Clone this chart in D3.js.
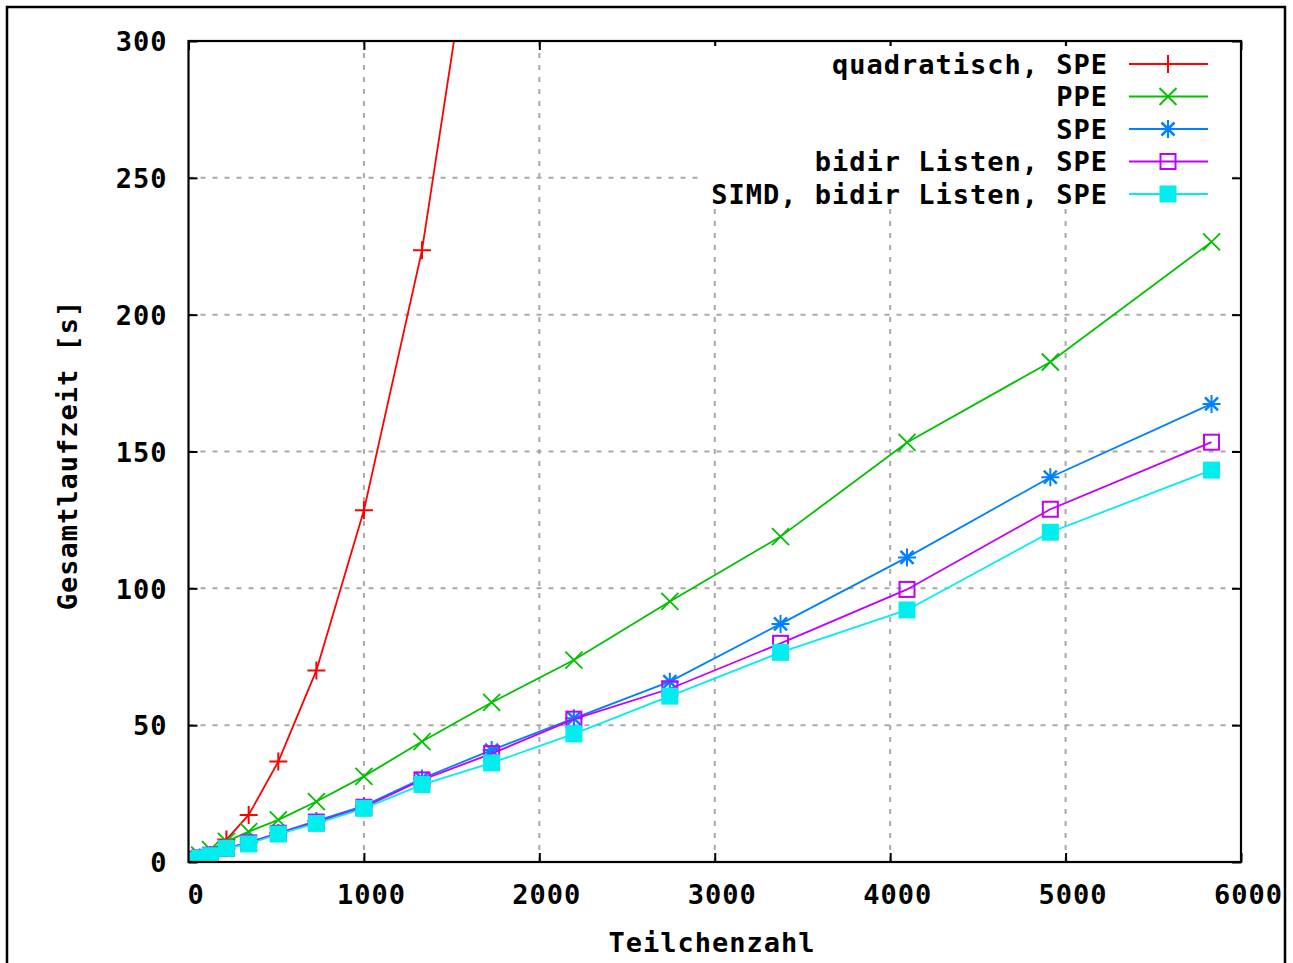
<!DOCTYPE html>
<html><head><meta charset="utf-8">
<script src="https://cdn.jsdelivr.net/npm/d3@7"></script>
<style>
html,body{margin:0;padding:0;background:#fff;}
svg text{font-family:"DejaVu Sans Mono","Liberation Mono",monospace;font-weight:bold;font-size:27px;letter-spacing:1px;fill:#000;}
</style></head>
<body>
<script>
// ---- data ----
const particles = [27, 64, 125, 216, 343, 512, 729, 1000, 1331, 1728, 2197, 2744, 3375, 4096, 4913, 5832];
const quadratischSPE = [0.3, 1.0, 2.5, 8.2, 17.2, 36.7, 70.0, 128.5, 223.5, 390];
const ppe = [1.0, 2.5, 4.5, 7.5, 11.1, 15.4, 22.1, 31.3, 44.0, 58.3, 73.8, 95.2, 118.9, 153.3, 182.7, 226.6];
const spe = [1.0, 1.6, 2.6, 5.0, 7.2, 10.6, 15.0, 20.5, 30.5, 40.9, 52.5, 65.9, 87.0, 111.3, 140.6, 167.4];
const bidirSPE = [1.0, 1.5, 2.5, 5.0, 7.0, 10.5, 14.6, 20.0, 30.0, 39.6, 52.2, 63.3, 79.9, 99.6, 128.9, 153.4];
const simdBidirSPE = [0.5, 1.4, 2.3, 5.0, 6.6, 10.2, 14.1, 19.6, 28.3, 36.2, 46.8, 60.6, 76.6, 92.1, 120.5, 143.2];
const seriesNames = ["quadratisch, SPE", "PPE", "SPE", "bidir Listen, SPE", "SIMD, bidir Listen, SPE"];
const seriesColors = ["#ff0000", "#00c000", "#0080ff", "#c000ff", "#00eeee"];
const seriesMarkers = ["plus", "cross", "star", "box", "fbox"];
const xTicks = [0, 1000, 2000, 3000, 4000, 5000, 6000];
const yTicks = [0, 50, 100, 150, 200, 250, 300];
const xTitle = "Teilchenzahl";
const yTitle = "Gesamtlaufzeit [s]";

const allSeries = [quadratischSPE, ppe, spe, bidirSPE, simdBidirSPE].map((vals, i) => ({
  name: seriesNames[i], color: seriesColors[i], marker: seriesMarkers[i],
  points: vals.map((v, j) => [particles[j], v])
}));

// ---- layout ----
const W = 1293, H = 963;
const L = 188.5, R = 1241, T = 41, B = 862;
const svg = d3.select("body").append("svg").attr("width", W).attr("height", H);

svg.append("rect").attr("x", 7).attr("y", 7).attr("width", 1278).attr("height", 966)
  .attr("fill", "#fff").attr("stroke", "#000").attr("stroke-width", 2.5);

const x = d3.scaleLinear().domain([0, 6000]).range([L, R]);
const y = d3.scaleLinear().domain([0, 300]).range([B, T]);

// grid
const grid = svg.append("g").attr("stroke", "#a8a8a8").attr("stroke-width", 2).attr("stroke-dasharray", "5,7");
grid.selectAll(".gx").data(xTicks.slice(1, -1)).join("line")
  .attr("x1", d => x(d)).attr("x2", d => x(d)).attr("y1", B).attr("y2", T);
grid.selectAll(".gy").data(yTicks.slice(1, -1)).join("line")
  .attr("y1", d => y(d)).attr("y2", d => y(d)).attr("x1", L).attr("x2", R);

// axes with inward ticks (mirrored)
const axB = svg.append("g").attr("transform", `translate(0,${B})`)
  .call(d3.axisBottom(x).tickValues(xTicks).tickSize(-9).tickFormat(d3.format("d")));
const axT = svg.append("g").attr("transform", `translate(0,${T})`)
  .call(d3.axisTop(x).tickValues(xTicks).tickSize(-9).tickFormat(""));
const axL = svg.append("g").attr("transform", `translate(${L},0)`)
  .call(d3.axisLeft(y).tickValues(yTicks).tickSize(-9).tickFormat(d3.format("d")));
const axR = svg.append("g").attr("transform", `translate(${R},0)`)
  .call(d3.axisRight(y).tickValues(yTicks).tickSize(-9).tickFormat(""));
[axB, axT, axL, axR].forEach(a => {
  a.select(".domain").remove();
  a.selectAll(".tick line").attr("stroke", "#000").attr("stroke-width", 2);
  a.selectAll("text").attr("font-size", null).attr("font-family", null).attr("fill", "#000");
});
axB.selectAll(".tick text").attr("dy", null).attr("y", 42).attr("dx", 7);
axL.selectAll(".tick text").attr("x", -21).attr("dy", "0.36em");

// legend background
svg.append("rect").attr("x", 704).attr("y", 46).attr("width", 524).attr("height", 163).attr("fill", "#fff");

// data
const clip = svg.append("clipPath").attr("id", "clip").append("rect")
  .attr("x", L).attr("y", T).attr("width", R - L).attr("height", B - T);
const plot = svg.append("g").attr("clip-path", "url(#clip)");
const line = d3.line().x(d => x(d[0])).y(d => y(d[1]));

function drawMarker(g, type, color, cx, cy) {
  const s = 9;
  if (type === "plus" || type === "star") {
    g.append("path").attr("d", `M${cx - s},${cy}H${cx + s}M${cx},${cy - s}V${cy + s}`)
      .attr("stroke", color).attr("stroke-width", 2).attr("fill", "none");
  }
  if (type === "cross" || type === "star") {
    const c = type === "star" ? 6.5 : 8.5;
    g.append("path").attr("d", `M${cx - c},${cy - c}L${cx + c},${cy + c}M${cx - c},${cy + c}L${cx + c},${cy - c}`)
      .attr("stroke", color).attr("stroke-width", type === "star" ? 2.5 : 1.8).attr("fill", "none");
  }
  if (type === "box") {
    g.append("rect").attr("x", cx - 7.5).attr("y", cy - 7.5).attr("width", 15).attr("height", 15)
      .attr("stroke", color).attr("stroke-width", 2).attr("fill", "none");
  }
  if (type === "fbox") {
    g.append("rect").attr("x", cx - 8.5).attr("y", cy - 8.5).attr("width", 17).attr("height", 17)
      .attr("fill", color);
  }
}

allSeries.forEach(s => {
  const g = plot.append("g");
  g.append("path").datum(s.points).attr("d", line).attr("fill", "none")
    .attr("stroke", s.color).attr("stroke-width", 1.8);
  s.points.forEach(p => drawMarker(g, s.marker, s.color, x(p[0]), y(p[1])));
});

// frame
svg.append("rect").attr("x", L).attr("y", T).attr("width", R - L).attr("height", B - T)
  .attr("fill", "none").attr("stroke", "#000").attr("stroke-width", 2.2);

// legend
const lg = svg.append("g");
allSeries.forEach((s, i) => {
  const ly = 64 + i * 32.5;
  lg.append("text").attr("x", 1108).attr("y", ly).attr("dy", "0.36em").attr("text-anchor", "end").text(s.name);
  lg.append("line").attr("x1", 1129).attr("x2", 1208).attr("y1", ly).attr("y2", ly)
    .attr("stroke", s.color).attr("stroke-width", 2);
  drawMarker(lg, s.marker, s.color, 1168, ly);
});

// titles
svg.append("text").attr("x", 712).attr("y", 952).attr("text-anchor", "middle").text(xTitle);
svg.append("text").attr("transform", "translate(77,455) rotate(-90)").attr("text-anchor", "middle").text(yTitle);
</script>
</body></html>
